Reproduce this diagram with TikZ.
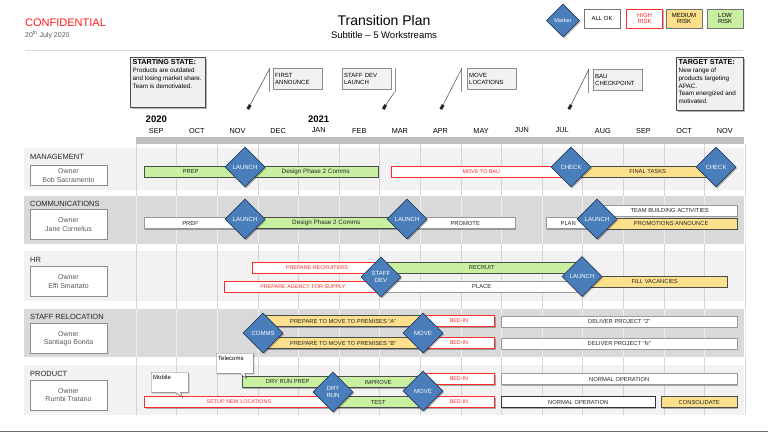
\documentclass[tikz,border=0pt]{standalone}
\usepackage{fontspec}
\setmainfont{Liberation Sans}
\usetikzlibrary{shapes.geometric,shapes.callouts,shadows}
\definecolor{mileblue}{HTML}{4A7EBB}
\definecolor{mileedge}{HTML}{27405F}
\definecolor{lowgreen}{HTML}{C8F0A0}
\definecolor{medyellow}{HTML}{FDE08C}
\definecolor{highred}{HTML}{FF2A2A}
\definecolor{confred}{HTML}{FF1A1A}
\definecolor{bandlight}{HTML}{F2F2F2}
\definecolor{banddark}{HTML}{D9D9D9}
\definecolor{ownergray}{HTML}{595959}

\begin{document}
\begin{tikzpicture}[x=1pt, y=-1pt,
    softshadow/.style={drop shadow={shadow xshift=1.2pt, shadow yshift=-1.2pt, opacity=.3, fill=black}},
    taskbar/.style={softshadow, draw=black!70, minimum height=11, inner sep=0, anchor=west, text=black!85, font=\fontsize{5.8}{6}\selectfont},
    greenbar/.style={taskbar, fill=lowgreen},
    yellowbar/.style={taskbar, fill=medyellow},
    whitebar/.style={taskbar, draw=black!40, fill=white},
    redbar/.style={taskbar, draw=highred, line width=0.8, fill=white, text=highred, font=\fontsize{5.4}{6}\selectfont},
    milestone/.style={softshadow, diamond, aspect=1, draw=mileedge, line width=0.6, fill=mileblue, minimum size=40, inner sep=0, align=center, text=white, font=\fontsize{6}{6.5}\selectfont},
    legendkey/.style={softshadow, draw=black!55, fill=white, minimum width=36, minimum height=19, inner sep=0, align=center, font=\fontsize{6}{6.5}\selectfont},
    ownerbox/.style={draw=black!45, line width=0.6, fill=white, minimum width=77, minimum height=30, inner sep=0, align=center, text=ownergray, font=\fontsize{7}{8.2}\selectfont},
    streamlabel/.style={anchor=west, inner sep=0, text=black!85, font=\fontsize{7.5}{9}\selectfont},
    monthlabel/.style={inner sep=0, font=\fontsize{7.3}{8}\selectfont},
    yearlabel/.style={inner sep=0, font=\fontsize{9.5}{10}\selectfont\bfseries},
    notebox/.style={softshadow, draw=black!45, fill=black!5, anchor=north west, minimum height=21, text width=45, inner sep=2, align=left, font=\fontsize{6}{7}\selectfont},
    statebox/.style={softshadow, draw=black!70, line width=0.9, fill=black!6, anchor=north west, inner sep=0},
    statetext/.style={anchor=north west, inner sep=0, align=left, font=\fontsize{6.3}{7.8}\selectfont},
    bubble/.style={softshadow, rectangle callout, callout pointer width=5, draw=black!60, fill=white, anchor=north west, text width=33, text height=5, text depth=11, inner sep=2, align=left, font=\fontsize{6}{7}\selectfont},
    accentbar/.style={draw=black!45, line width=0.5, double=white, double distance=1},
    leader/.style={draw=black!70, line width=0.5},
    pinmark/.style={fill=black!85, minimum width=3, minimum height=5, inner sep=0, rotate=-30},
    gridline/.style={draw=black!17, line width=0.5},
    gridsoft/.style={draw=white!55!banddark, line width=0.5}
]
\useasboundingbox (0,0) rectangle (768,432);

\node[anchor=west, inner sep=0, text=confred, font=\fontsize{11}{13}\selectfont] (conf) at (25,22.5) {CONFIDENTIAL};
\node[anchor=west, inner sep=0, text=black!65, font=\fontsize{7}{8}\selectfont] (date) at (25,35) {20\textsuperscript{th} July 2020};
\node[inner sep=0, font=\fontsize{14}{16}\selectfont] (title) at (384,20.5) {Transition Plan};
\node[inner sep=0, font=\fontsize{9.5}{11}\selectfont] (subtitle) at (384,35) {Subtitle – 5 Workstreams};

\node[milestone, minimum size=33, font=\fontsize{5.6}{6}\selectfont] (legmarker) at (563,20.5) {Marker};
\node[legendkey] (legok) at (602,18.5) {ALL OK};
\node[legendkey, draw=highred, line width=0.8, text=highred] (leghigh) at (644.5,18.5) {HIGH\\RISK};
\node[legendkey, fill=medyellow] (legmed) at (684,18.5) {MEDIUM\\RISK};
\node[legendkey, fill=lowgreen] (leglow) at (725,18.5) {LOW\\RISK};

\draw[black!15, line width=1.5] (25,50.5) -- (743,50.5);
\draw[black!60, line width=1] (0,431.5) -- (768,431.5);

\node[statebox, minimum width=75, minimum height=50] (startbox) at (130,57) {};
\node[statetext] (starttext) at (132.5,59.5) {{\fontsize{7.2}{8}\selectfont\bfseries STARTING STATE:}\\Products are outdated\\and losing market share.\\Team is demotivated.};
\node[statebox, minimum width=67, minimum height=53] (targetbox) at (676,57) {};
\node[statetext] (targettext) at (678.5,59.5) {{\fontsize{7.2}{8}\selectfont\bfseries TARGET STATE:}\\New range of\\products targeting\\APAC.\\Team energized and\\motivated.};

\node[notebox] (firstann) at (273,68) {FIRST\\ANNOUNCE};
\node[notebox] (staffdev) at (342,68) {STAFF DEV\\LAUNCH};
\node[notebox] (moveloc) at (467,68) {MOVE\\LOCATIONS};
\node[notebox] (bauchk) at (593,69) {BAU\\CHECKPOINT};
\coordinate (fatop) at (270,68);
\coordinate (sdfoot) at (394.5,92);
\coordinate (mltop) at (462,68);
\coordinate (bctop) at (589,69);
\node[pinmark] (famark) at (249,107) {};
\node[pinmark] (sdmark) at (384.5,107) {};
\node[pinmark] (mlmark) at (442,107) {};
\node[pinmark] (bcmark) at (570,107) {};
\draw[accentbar] (fatop) -- ++(0,24);
\draw[accentbar] (sdfoot) -- ++(0,-24);
\draw[accentbar] (mltop) -- ++(0,24);
\draw[accentbar] (bctop) -- ++(0,24);
\draw[leader] (fatop) -- (famark);
\draw[leader] (sdfoot) -- (sdmark);
\draw[leader] (mltop) -- (mlmark);
\draw[leader] (bctop) -- (bcmark);

\node[yearlabel] (yr2020) at (156.3,119) {2020};
\node[yearlabel] (yr2021) at (318.7,119) {2021};
\foreach \m [count=\i from 0] in {SEP,OCT,NOV,DEC,JAN,FEB,MAR,APR,MAY,JUN,JUL,AUG,SEP,OCT,NOV}
  \node[monthlabel] (month\i) at ({156.3+40.6*\i},130.5) {\m};
\fill[black!25] (136,137) rectangle (744,144);

\fill[bandlight] (24,148) rectangle (744,190);
\fill[banddark] (24,196) rectangle (744,244);
\fill[bandlight] (24,251) rectangle (744,301);
\fill[banddark] (24,309) rectangle (744,357);
\fill[bandlight] (24,365) rectangle (744,415);
\foreach \i in {0,...,15}
  \draw[gridline] ({136+40.6*\i},144) -- ({136+40.6*\i},415);
\foreach \ytop/\ybot in {196/244,309/357}
  \foreach \i in {0,...,15}
    \draw[gridsoft] ({136+40.6*\i},\ytop) -- ({136+40.6*\i},\ybot);

\node[streamlabel] (mgtlbl) at (30,157) {MANAGEMENT};
\node[ownerbox, minimum height=20] (mgtowner) at (68.5,175.5) {Owner\\Bob Sacramento};
\node[streamlabel] (comlbl) at (30,203.5) {COMMUNICATIONS};
\node[ownerbox] (comowner) at (68.5,224.5) {Owner\\Jane Cornelius};
\node[streamlabel] (hrlbl) at (30,259.5) {HR};
\node[ownerbox] (hrowner) at (68.5,281.5) {Owner\\Effi Smartato};
\node[streamlabel] (reloclbl) at (30,316.5) {STAFF RELOCATION};
\node[ownerbox] (relocowner) at (68.5,338.5) {Owner\\Santiago Bonita};
\node[streamlabel] (prodlbl) at (30,374) {PRODUCT};
\node[ownerbox] (prodowner) at (68.5,395) {Owner\\Rumbi Tratano};

\node[greenbar, minimum width=93] (mgtprep) at (144,171.5) {PREP};
\node[greenbar, minimum width=125, font=\fontsize{6.3}{7}\selectfont] (mgtdesign) at (253,171.5) {Design Phase 2 Comms};
\node[redbar, minimum width=180] (mgtbau) at (391,171.5) {MOVE TO BAU};
\node[yellowbar, minimum width=137] (mgtfinal) at (579,171.5) {FINAL TASKS};
\node[milestone] (mgtlaunch) at (245,167) {LAUNCH};
\node[milestone] (mgtcheck) at (571,167) {CHECK};
\node[milestone] (mgtcheckb) at (716,167) {CHECK};

\node[whitebar, minimum width=92] (comprep) at (144,223) {PREP};
\node[greenbar, minimum width=144, font=\fontsize{6.3}{7}\selectfont] (comdesign) at (254,223) {Design Phase 2 Comms};
\node[whitebar, minimum width=100] (compromote) at (415,223) {PROMOTE};
\node[whitebar, minimum width=44] (complan) at (546,223) {PLAN};
\node[whitebar, minimum width=135] (comteam) at (602,210.5) {TEAM BUILDING ACTIVITIES};
\node[yellowbar, minimum width=132] (compromo) at (605,223.5) {PROMOTIONS ANNOUNCE};
\node[milestone] (comlaunch) at (245,219) {LAUNCH};
\node[milestone] (comlaunchb) at (407,219) {LAUNCH};
\node[milestone] (comlaunchc) at (597,219) {LAUNCH};

\node[redbar, minimum width=129] (hrrecruiters) at (252,267.5) {PREPARE RECRUITERS};
\node[redbar, minimum width=157] (hragency) at (224,286.5) {PREPARE AGENCY FOR SUPPLY};
\node[greenbar, minimum width=201] (hrrecruit) at (381,267.5) {RECRUIT};
\node[whitebar, minimum width=201] (hrplace) at (381,286.5) {PLACE};
\node[yellowbar, minimum width=145] (hrfill) at (582,281.5) {FILL VACANCIES};
\node[milestone] (hrstaffdev) at (381,277) {STAFF\\DEV};
\node[milestone] (hrlaunch) at (582,276.5) {LAUNCH};

\node[yellowbar, minimum width=160] (relocprepa) at (263,321) {PREPARE TO MOVE TO PREMISES “A”};
\node[yellowbar, minimum width=160] (relocprepb) at (263,343) {PREPARE TO MOVE TO PREMISES “B”};
\node[redbar, minimum width=71] (relocbeda) at (423,321) {BED-IN};
\node[redbar, minimum width=71] (relocbedb) at (423,343) {BED-IN};
\node[whitebar, minimum width=236] (relocdela) at (501,321.5) {DELIVER PROJECT “2”};
\node[whitebar, minimum width=236] (relocdelb) at (501,343.5) {DELIVER PROJECT “N”};
\node[milestone] (reloccomms) at (263,333) {COMMS};
\node[milestone] (relocmove) at (423,333) {MOVE};

\node[greenbar, minimum width=91] (prodprep) at (242,382) {DRY RUN PREP};
\node[greenbar, minimum width=90] (prodimprove) at (333,382) {IMPROVE};
\node[redbar, minimum width=189] (prodsetup) at (144,402) {SETUP NEW LOCATIONS};
\node[greenbar, minimum width=90] (prodtest) at (333,402) {TEST};
\node[redbar, minimum width=71] (prodbeda) at (423,379) {BED-IN};
\node[redbar, minimum width=71] (prodbedb) at (423,402) {BED-IN};
\node[whitebar, minimum width=236] (prodnorma) at (501,379) {NORMAL OPERATION};
\node[whitebar, draw=black!80, minimum width=154] (prodnormb) at (501,402) {NORMAL OPERATION};
\node[yellowbar, minimum width=76] (prodconsol) at (661,402) {CONSOLIDATE};
\node[milestone] (proddryrun) at (333,392) {DRY\\RUN};
\node[milestone] (prodmove) at (423,391) {MOVE};
\node[bubble, callout absolute pointer={(246,378)}] (telecoms) at (216,353) {Telecoms};
\node[bubble, callout absolute pointer={(182,397)}] (mobile) at (151,372) {Mobile};
\end{tikzpicture}
\end{document}
